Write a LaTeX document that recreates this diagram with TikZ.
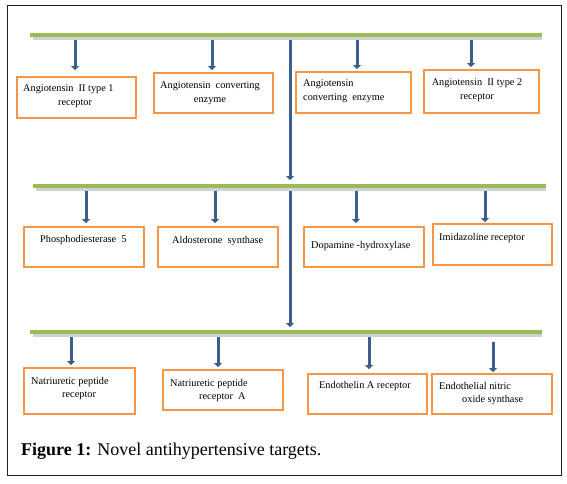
\documentclass[tikz,border=0pt]{standalone}
\usepackage{fontspec}
\setmainfont{Liberation Serif}
\usetikzlibrary{arrows.meta,calc}
\definecolor{barg}{HTML}{9BBB59}
\definecolor{arrb}{HTML}{3A5F8F}
\definecolor{boxo}{HTML}{F79646}
\definecolor{framec}{HTML}{231F20}
\begin{document}
\begin{tikzpicture}[x=1pt,y=-1pt,
  boxst/.style={draw=boxo,line width=1.8pt,anchor=north west,inner sep=0pt},
  txt/.style={font=\fontsize{10.3}{14.5}\selectfont,inner sep=0pt},
  txtb/.style={font=\fontsize{10.3}{13}\selectfont,inner sep=0pt},
  barst/.style={draw=barg,line width=4pt},
  barshadow/.style={draw=black!18,line width=2.5pt},
  arr/.style={draw=arrb,line width=3pt,-{Triangle[width=8pt,length=4pt]}}]
\useasboundingbox (0,0) rectangle (567,483);
\node[draw=framec,line width=1.3pt,minimum width=554pt,minimum height=470pt,anchor=north west,inner sep=0pt] (frame) at (7,5) {};

% bar coordinates
\coordinate (L1) at (30,35);  \coordinate (R1) at (542,35);
\coordinate (L2) at (33,186); \coordinate (R2) at (546,186);
\coordinate (L3) at (30,332); \coordinate (R3) at (542,332);

% boxes
\node[boxst,minimum width=119pt,minimum height=41pt] (b11) at (16,76) {};
\node[boxst,minimum width=119pt,minimum height=40pt] (b12) at (153,72) {};
\node[boxst,minimum width=115pt,minimum height=41pt] (b13) at (295,71) {};
\node[boxst,minimum width=115pt,minimum height=43pt] (b14) at (423,69) {};
\node[boxst,minimum width=120pt,minimum height=40pt] (b21) at (23,226) {};
\node[boxst,minimum width=120pt,minimum height=40pt] (b22) at (157,226) {};
\node[boxst,minimum width=120pt,minimum height=40pt] (b23) at (303,226) {};
\node[boxst,minimum width=119pt,minimum height=41pt] (b24) at (432,223) {};
\node[boxst,minimum width=111pt,minimum height=46pt] (b31) at (23,367) {};
\node[boxst,minimum width=120pt,minimum height=40pt] (b32) at (162,369) {};
\node[boxst,minimum width=119pt,minimum height=40pt] (b33) at (307,373) {};
\node[boxst,minimum width=120pt,minimum height=40pt] (b34) at (431,373) {};

% texts
\node[txt,anchor=north west,align=left] (t11) at (23,84) {Angiotensin\ \ II type 1\\\hspace*{35pt}receptor};
\node[txt,anchor=north,align=center] (t12) at (210,81) {Angiotensin\ \ converting\\enzyme};
\node[txt,anchor=north west,align=left] (t13) at (303,79) {Angiotensin\\converting\ \ enzyme};
\node[txt,anchor=north,align=center] (t14) at (477,78) {Angiotensin\ \ II type 2\\receptor};
\node[txt,anchor=west] (t21) at (40,240) {Phosphodiesterase\ \ 5};
\node[txt,anchor=west] (t22) at (172,241) {Aldosterone\ \ synthase};
\node[txt,anchor=west] (t23) at (311,246) {Dopamine -hydroxylase};
\node[txt,anchor=west] (t24) at (439,238) {Imidazoline receptor};
\node[txtb,anchor=north west,align=left] (t31) at (31,377) {Natriuretic peptide\\\hspace*{31pt}receptor};
\node[txtb,anchor=north west,align=left] (t32) at (170,379) {Natriuretic peptide\\\hspace*{29pt}receptor\ \ A};
\node[txt,anchor=west] (t33) at (319,386) {Endothelin A receptor};
\node[txtb,anchor=north west,align=left] (t34) at (439,382) {Endothelial nitric\\\hspace*{23pt}oxide synthase};

% central line
\coordinate (m1) at (290,36);
\coordinate (m2) at (290,184);
\coordinate (m3) at (290,188);
\coordinate (m4) at (290,330);
\draw[arr,shorten >=4pt] (m1) -- (m2);
\draw[arr,shorten >=3pt] (m3) -- (m4);

% arrow start coordinates
\coordinate (s11) at (75,37);  \coordinate (s12) at (212,37);
\coordinate (s13) at (357,37); \coordinate (s14) at (471,37);
\coordinate (s21) at (86,188); \coordinate (s22) at (215,188);
\coordinate (s23) at (356,188);\coordinate (s24) at (485,188);
\coordinate (s31) at (71,334); \coordinate (s32) at (218,334);
\coordinate (s33) at (369,334);\coordinate (s34) at (493,342);

\draw[arr,shorten >=6pt] (s11) -- (s11 |- b11.north);
\draw[arr,shorten >=2pt] (s12) -- (s12 |- b12.north);
\draw[arr,shorten >=2pt] (s13) -- (s13 |- b13.north);
\draw[arr,shorten >=2pt] (s14) -- (s14 |- b14.north);
\draw[arr,shorten >=3pt] (s21) -- (s21 |- b21.north);
\draw[arr,shorten >=3pt] (s22) -- (s22 |- b22.north);
\draw[arr,shorten >=3pt] (s23) -- (s23 |- b23.north);
\draw[arr,shorten >=1pt] (s24) -- (s24 |- b24.north);
\draw[arr,shorten >=2pt] (s31) -- (s31 |- b31.north);
\draw[arr,shorten >=2pt] (s32) -- (s32 |- b32.north);
\draw[arr,shorten >=4pt] (s33) -- (s33 |- b33.north);
\draw[arr,shorten >=1pt] (s34) -- (s34 |- b34.north);

% bars
\draw[barshadow] ($(L1)+(3,3.5)$) -- ($(R1)+(0,3.5)$);
\draw[barshadow] ($(L2)+(3,3.5)$) -- ($(R2)+(0,3.5)$);
\draw[barshadow] ($(L3)+(3,3.5)$) -- ($(R3)+(0,3.5)$);
\draw[barst] (L1) -- (R1);
\draw[barst] (L2) -- (R2);
\draw[barst] (L3) -- (R3);

% caption
\node[anchor=base west,inner sep=0pt,font=\fontsize{18}{20}\selectfont] (cap) at (21,455) {\textbf{Figure 1:} Novel antihypertensive targets.};
\end{tikzpicture}
\end{document}
